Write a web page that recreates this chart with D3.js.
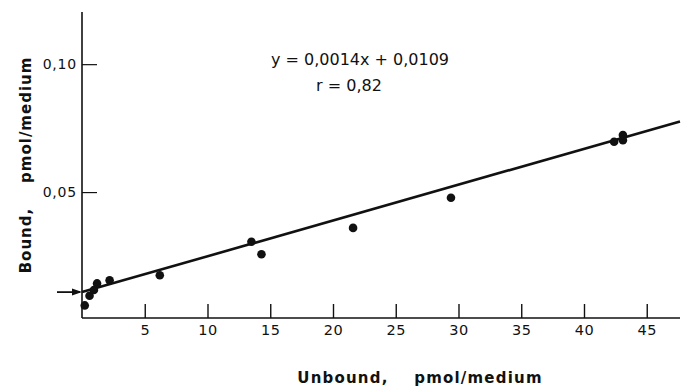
<!DOCTYPE html>
<html>
<head>
<meta charset="utf-8">
<script src="https://cdn.jsdelivr.net/npm/d3@7"></script>
<style>
  body { margin: 0; background: #fff; }
  svg { display: block; }
  text { font-family: "DejaVu Sans", sans-serif; fill: #111; }
</style>
</head>
<body>
<div id="chart"></div>
<script>
const width = 681, height = 387;

// unbound (x) vs bound (y), pmol/medium
const unbound = [0.22, 0.6, 0.95, 1.2, 2.2, 6.2, 13.5, 14.3, 21.6, 29.4, 42.4, 43.1, 43.1];
const bound = [0.0057, 0.0095, 0.0117, 0.0143, 0.0155, 0.0175, 0.0306, 0.0257, 0.0360, 0.0478, 0.0697, 0.0723, 0.0703];

const xTicks = [5, 10, 15, 20, 25, 30, 35, 40, 45];
const yTicks = [0.05, 0.10];

const slope = 0.0014, intercept = 0.0109;

const x = d3.scaleLinear().domain([0, 47.65]).range([82, 680]);
const y = d3.scaleLinear().domain([0, 0.12]).range([320, 13]);

const svg = d3.select("#chart")
  .append("svg")
    .attr("width", width)
    .attr("height", height);

// axes
const xAxis = svg.append("g")
    .attr("transform", `translate(0, 318)`)
    .call(d3.axisBottom(x).tickValues(xTicks).tickSize(-14).tickPadding(6).tickFormat(d3.format("d")));
xAxis.select(".domain").attr("d", `M${x(0)},0H${x.range()[1]}`).attr("stroke", "#111").attr("stroke-width", 1.6);
xAxis.selectAll(".tick line").attr("stroke", "#111").attr("stroke-width", 1.4);
xAxis.selectAll(".tick text")
    .attr("dy", "0.35em")
    .attr("y", 12)
    .style("font-size", "14.5px")
    .style("letter-spacing", "0.5px")
    .attr("fill", "#111");

const yAxis = svg.append("g")
    .attr("transform", `translate(82, 0)`)
    .call(d3.axisLeft(y).tickValues(yTicks).tickSize(-15).tickPadding(6)
      .tickFormat(d => d3.format(".2f")(d).replace(".", ",")));
yAxis.select(".domain").attr("d", `M0,${y.range()[1] - 1}V318`).attr("stroke", "#111").attr("stroke-width", 1.6);
yAxis.selectAll(".tick line").attr("stroke", "#111").attr("stroke-width", 1.2);
yAxis.selectAll(".tick text")
    .attr("x", -5)
    .style("font-size", "14px")
    .style("letter-spacing", "0.8px")
    .attr("fill", "#111");

// regression line
const fit = [0, 47.65].map(v => [v, slope * v + intercept]);
svg.append("path")
    .datum(fit)
    .attr("d", d3.line().x(d => x(d[0])).y(d => y(d[1])))
    .attr("fill", "none")
    .attr("stroke", "#111")
    .attr("stroke-width", 2.6);

// intercept arrow
const ay = y(intercept);
svg.append("line")
    .attr("x1", 57).attr("x2", 80)
    .attr("y1", ay).attr("y2", ay)
    .attr("stroke", "#111").attr("stroke-width", 1.8);
svg.append("path")
    .attr("d", `M82,${ay}L72,${ay - 3.5}L72,${ay + 3.5}Z`)
    .attr("fill", "#111");

// points
svg.append("g")
  .selectAll("circle")
  .data(unbound.map((u, i) => ({ u, b: bound[i] })))
  .join("circle")
    .attr("cx", d => x(d.u))
    .attr("cy", d => y(d.b))
    .attr("r", 4.3)
    .attr("fill", "#111");

// equation
svg.append("text")
    .attr("x", 360).attr("y", 65)
    .attr("text-anchor", "middle")
    .style("font-size", "16px")
    .text("y = 0,0014x + 0,0109");
svg.append("text")
    .attr("x", 349).attr("y", 91)
    .attr("text-anchor", "middle")
    .style("font-size", "16px")
    .text("r = 0,82");

// axis titles
svg.append("text")
    .attr("x", 420).attr("y", 383)
    .attr("text-anchor", "middle")
    .style("font-size", "15px")
    .style("font-weight", "bold")
    .style("letter-spacing", "1.2px")
    .attr("xml:space", "preserve")
    .text("Unbound,    pmol/medium");
svg.append("text")
    .attr("transform", "translate(31, 165) rotate(-90)")
    .attr("text-anchor", "middle")
    .style("font-size", "15px")
    .style("font-weight", "bold")
    .style("letter-spacing", "1px")
    .attr("xml:space", "preserve")
    .text("Bound,    pmol/medium");
</script>
</body>
</html>
